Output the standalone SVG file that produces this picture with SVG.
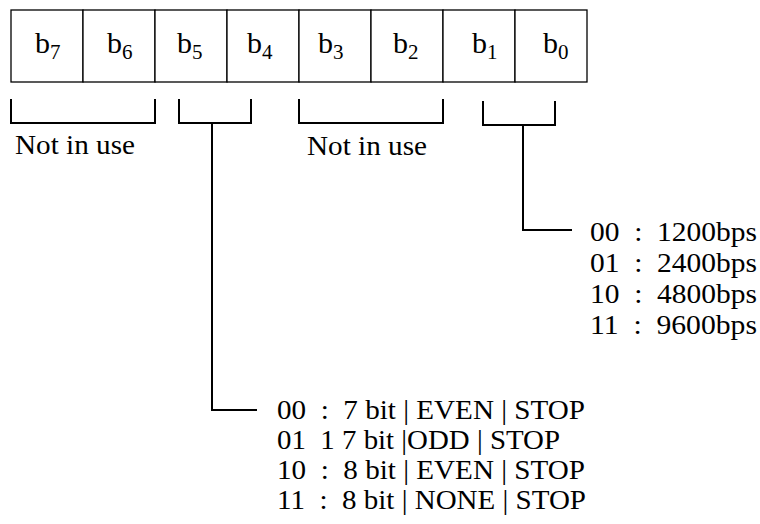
<svg xmlns="http://www.w3.org/2000/svg" width="760" height="524" viewBox="0 0 760 524">
<style>
.t{font-family:"Liberation Serif","Times New Roman",serif;font-size:27px;fill:#000}
.b{font-family:"Liberation Serif","Times New Roman",serif;font-size:30px;fill:#000}
.s{font-size:21px}
.cell{fill:#fff;stroke:#000;stroke-width:1.3}
.ln{fill:none;stroke:#000;stroke-width:2}
</style>
<rect width="760" height="524" fill="#fff"/>
<g id="register">
<rect class="cell" x="11" y="10" width="72" height="72"/>
<rect class="cell" x="83" y="10" width="72" height="72"/>
<rect class="cell" x="155" y="10" width="72" height="72"/>
<rect class="cell" x="227" y="10" width="72" height="72"/>
<rect class="cell" x="299" y="10" width="72" height="72"/>
<rect class="cell" x="371" y="10" width="72" height="72"/>
<rect class="cell" x="443" y="10" width="72" height="72"/>
<rect class="cell" x="515" y="10" width="72" height="72"/>
<text class="b" x="35" y="53">b<tspan class="s" dy="6">7</tspan></text>
<text class="b" x="107" y="53">b<tspan class="s" dy="6">6</tspan></text>
<text class="b" x="177" y="53">b<tspan class="s" dy="6">5</tspan></text>
<text class="b" x="247" y="53">b<tspan class="s" dy="6">4</tspan></text>
<text class="b" x="318" y="53">b<tspan class="s" dy="6">3</tspan></text>
<text class="b" x="393" y="53">b<tspan class="s" dy="6">2</tspan></text>
<text class="b" x="472" y="53">b<tspan class="s" dy="6">1</tspan></text>
<text class="b" x="543" y="53">b<tspan class="s" dy="6">0</tspan></text>
</g>
<g id="connectors">
<path class="ln" d="M11,99 V123 H155 V99"/>
<path class="ln" d="M179,99 V123 H251 V99"/>
<path class="ln" d="M299,99 V123 H443 V99"/>
<path class="ln" d="M483,101 V125 H555 V101"/>
<path class="ln" d="M212,123 V410 H257"/>
<path class="ln" d="M523,125 V230 H572"/>
</g>
<g id="label-not-in-use-1"><text class="t" x="15" y="154" textLength="120" lengthAdjust="spacingAndGlyphs">Not in use</text></g>
<g id="label-not-in-use-2"><text class="t" x="307" y="155" textLength="120" lengthAdjust="spacingAndGlyphs">Not in use</text></g>
<g id="baud-list">
<text class="t" x="590" y="241" xml:space="preserve" textLength="167" lengthAdjust="spacingAndGlyphs">00  :  1200bps</text>
<text class="t" x="590" y="272" xml:space="preserve" textLength="167" lengthAdjust="spacingAndGlyphs">01  :  2400bps</text>
<text class="t" x="590" y="303" xml:space="preserve" textLength="167" lengthAdjust="spacingAndGlyphs">10  :  4800bps</text>
<text class="t" x="590" y="334" xml:space="preserve" textLength="167" lengthAdjust="spacingAndGlyphs">11  :  9600bps</text>
</g>
<g id="format-list">
<text class="t" x="277" y="419" xml:space="preserve" textLength="308" lengthAdjust="spacingAndGlyphs">00  :  7 bit | EVEN | STOP</text>
<text class="t" x="277" y="449" xml:space="preserve" textLength="283" lengthAdjust="spacingAndGlyphs">01  1 7 bit |ODD | STOP</text>
<text class="t" x="277" y="479" xml:space="preserve" textLength="308" lengthAdjust="spacingAndGlyphs">10  :  8 bit | EVEN | STOP</text>
<text class="t" x="277" y="509" xml:space="preserve" textLength="309" lengthAdjust="spacingAndGlyphs">11  :  8 bit | NONE | STOP</text>
</g>
</svg>
